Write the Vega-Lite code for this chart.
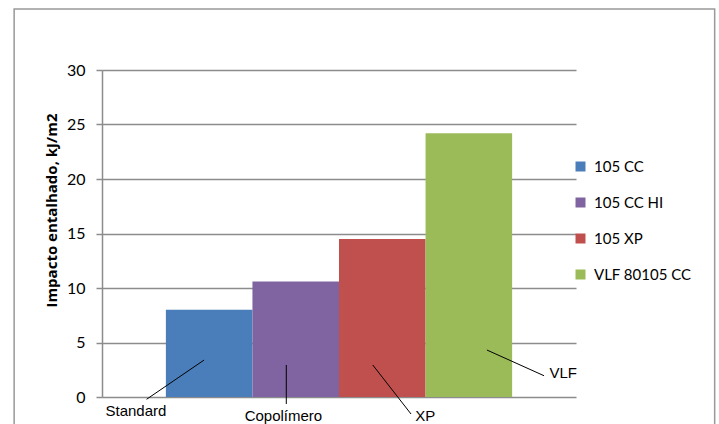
{
  "$schema": "https://vega.github.io/schema/vega-lite/v6.json",
  "width": 474,
  "height": 327,
  "autosize": {"type": "none"},
  "padding": {"left": 102, "top": 70, "right": 143, "bottom": 27},
  "background": "white",
  "config": {
    "view": {"stroke": null},
    "font": "Lato"
  },
  "datasets": {
    "bars": [
      {"series": "105 CC", "value": 8.0},
      {"series": "105 CC HI", "value": 10.6},
      {"series": "105 XP", "value": 14.5},
      {"series": "VLF 80105 CC", "value": 24.2}
    ],
    "leaders": [
      {"label": "Standard", "x": 0.777, "y": -0.21, "x2": 1.441, "y2": 3.39},
      {"label": "Copolímero", "x": 2.391, "y": -0.64, "x2": 2.391, "y2": 2.94},
      {"label": "XP", "x": 3.832, "y": -1.56, "x2": 3.39, "y2": 2.94},
      {"label": "VLF", "x": 5.369, "y": 1.95, "x2": 4.709, "y2": 4.31}
    ],
    "labels": [
      {"label": "Standard", "x": 0.654, "y": -1.26},
      {"label": "Copolímero", "x": 2.358, "y": -1.74},
      {"label": "XP", "x": 3.997, "y": -1.74},
      {"label": "VLF", "x": 5.59, "y": 2.2}
    ],
    "frame": [
      {"x": -0.753, "x2": 7.34, "y": 35.6, "y2": -3.2}
    ]
  },
  "layer": [
    {
      "data": {"name": "bars"},
      "mark": {"type": "bar", "clip": false},
      "encoding": {
        "x": {
          "field": "series",
          "type": "nominal",
          "sort": ["105 CC", "105 CC HI", "105 XP", "VLF 80105 CC"],
          "scale": {"paddingInner": 0, "paddingOuter": 0.738},
          "axis": null
        },
        "y": {
          "field": "value",
          "type": "quantitative",
          "scale": {"domain": [0, 30], "nice": false, "zero": true},
          "axis": {
            "title": "Impacto entalhado, kJ/m2",
            "titleFont": "Open Sans",
            "titleFontSize": 15,
            "titleFontWeight": "bold",
            "titleColor": "#000000",
            "titleY": 140,
            "titlePadding": 7,
            "values": [0, 5, 10, 15, 20, 25, 30],
            "labelFont": "Lato",
            "labelFontSize": 16,
            "labelColor": "#000000",
            "labelPadding": 11,
            "tickSize": 6,
            "tickColor": "#8c8c8c",
            "tickWidth": 1.5,
            "domainColor": "#8c8c8c",
            "domainWidth": 1.5,
            "grid": true,
            "gridColor": "#8c8c8c",
            "gridWidth": 1.5
          }
        },
        "color": {
          "field": "series",
          "type": "nominal",
          "sort": ["105 CC", "105 CC HI", "105 XP", "VLF 80105 CC"],
          "scale": {"range": ["#4A7EBB", "#8064A2", "#C0504D", "#9BBB59"]},
          "legend": {
            "title": null,
            "orient": "none",
            "legendX": 471,
            "legendY": 89,
            "padding": 0,
            "symbolType": "square",
            "symbolSize": 100,
            "symbolStrokeWidth": 0,
            "labelFont": "Lato",
            "labelFontSize": 15,
            "labelColor": "#000000",
            "labelOffset": 6,
            "rowPadding": 20
          }
        }
      }
    },
    {
      "data": {"name": "frame"},
      "mark": {"type": "rect", "clip": false, "fill": null, "stroke": "#999999", "strokeWidth": 1.5},
      "encoding": {
        "x": {"field": "x", "type": "quantitative", "scale": {"domain": [0.262, 5.738], "nice": false, "zero": false}, "axis": null},
        "x2": {"field": "x2"},
        "y": {"field": "y", "type": "quantitative"},
        "y2": {"field": "y2"}
      }
    },
    {
      "data": {"name": "leaders"},
      "mark": {"type": "rule", "clip": false, "color": "#000000", "strokeWidth": 1},
      "encoding": {
        "x": {"field": "x", "type": "quantitative", "scale": {"domain": [0.262, 5.738], "nice": false, "zero": false}, "axis": null},
        "x2": {"field": "x2"},
        "y": {"field": "y", "type": "quantitative"},
        "y2": {"field": "y2"}
      }
    },
    {
      "data": {"name": "labels"},
      "mark": {"type": "text", "clip": false, "font": "Liberation Sans", "fontSize": 15, "color": "#000000", "align": "center", "baseline": "middle"},
      "encoding": {
        "x": {"field": "x", "type": "quantitative", "scale": {"domain": [0.262, 5.738], "nice": false, "zero": false}, "axis": null},
        "y": {"field": "y", "type": "quantitative"},
        "text": {"field": "label"}
      }
    }
  ],
  "resolve": {"scale": {"x": "independent", "color": "independent"}}
}
